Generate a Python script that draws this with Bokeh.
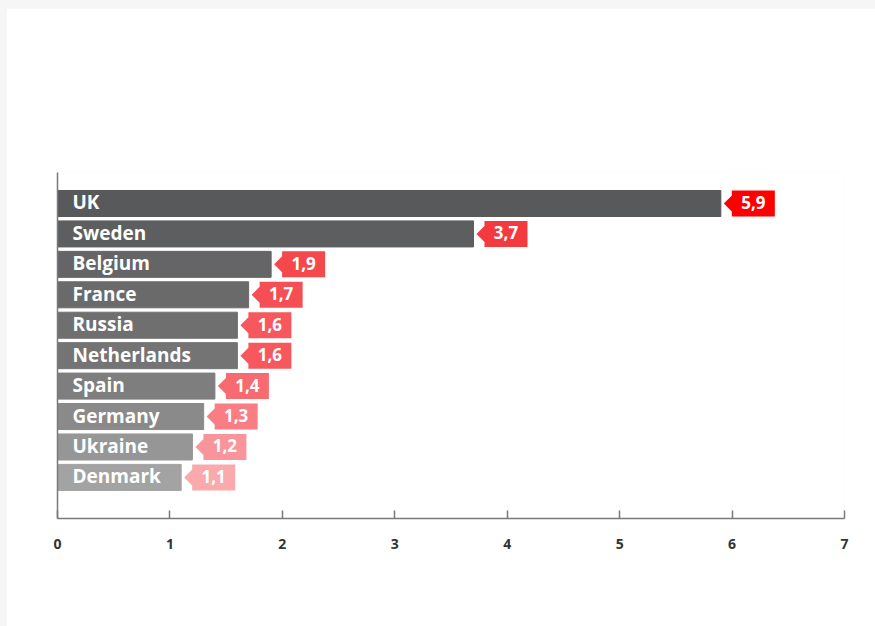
from bokeh.plotting import figure
from bokeh.models import ColumnDataSource, Range1d, FixedTicker, Column
from bokeh.core.properties import value
from bokeh.embed import file_html
from bokeh.resources import INLINE

countries = ["UK", "Sweden", "Belgium", "France", "Russia", "Netherlands",
             "Spain", "Germany", "Ukraine", "Denmark"]
values = [5.9, 3.7, 1.9, 1.7, 1.6, 1.6, 1.4, 1.3, 1.2, 1.1]
labels = ["5,9", "3,7", "1,9", "1,7", "1,6", "1,6", "1,4", "1,3", "1,2", "1,1"]
bar_colors = ["#58595b", "#5d5e60", "#656567", "#6a6a6b", "#6f6f70", "#747475",
              "#7e7e7f", "#8a8a8b", "#969697", "#a3a3a4"]
tag_colors = ["#ff0000", "#f23a3f", "#f4484d", "#f54f55", "#f6585d", "#f6585d",
              "#f76a6f", "#f87e83", "#f9959a", "#faa9ad"]
x_ticks = [0, 1, 2, 3, 4, 5, 6, 7]

W, H = 869, 618
FL, FR, FT, FB = 51, 838, 164, 510
px_per_unit = (FR - FL) / 7.0

ys = [-i for i in range(len(countries))]
bar_h = 0.855

p = figure(width=W, height=H, output_backend="svg", toolbar_location=None,
           x_range=Range1d(0, 7), y_range=Range1d(-10.35, 1.018),
           min_border_left=FL, min_border_right=W - FR,
           min_border_top=FT, min_border_bottom=H - FB)
p.border_fill_color = "white"
p.background_fill_color = "white"
p.outline_line_color = None
p.xgrid.grid_line_color = None
p.ygrid.grid_line_color = None

src = ColumnDataSource(dict(y=ys, v=values, name=countries, col=bar_colors))
p.hbar(y="y", left=0, right="v", height=bar_h, color="col", source=src)

# value tags
d3 = 3 / px_per_unit
d11 = 11 / px_per_unit
tw = 43 / px_per_unit
xs, yss, tx = [], [], []
ah = 8 / 30.44
for v, y in zip(values, ys):
    x0 = v + d3
    x1 = v + d11
    x2 = x1 + tw
    xs.append([x0, x1, x1, x2, x2, x1, x1])
    yss.append([y, y + ah, y + bar_h / 2, y + bar_h / 2, y - bar_h / 2, y - bar_h / 2, y - ah])
    tx.append(x1 + tw / 2)
tsrc = ColumnDataSource(dict(xs=xs, ys=yss, col=tag_colors, tx=tx, y=ys, lab=labels))
p.patches("xs", "ys", fill_color="col", line_color=None, source=tsrc)
p.text(x="tx", y="y", text="lab", source=tsrc, text_color="white",
       text_font=value("Open Sans"), text_font_style="bold", text_font_size="17px",
       text_align="center", text_baseline="middle", y_offset=-1)

p.text(x=0, y="y", text="name", source=src, x_offset=15, y_offset=-1, text_color="white",
       text_font=value("Open Sans"), text_font_style="bold", text_font_size="19px",
       text_align="left", text_baseline="middle")

xa = p.xaxis[0]
xa.ticker = FixedTicker(ticks=x_ticks)
xa.axis_line_color = "#7a7a7a"
xa.axis_line_width = 1.5
xa.major_tick_line_color = "#7a7a7a"
xa.major_tick_line_width = 1.5
xa.major_tick_in = 8
xa.major_tick_out = 0
xa.minor_tick_line_color = None
xa.major_label_standoff = 20
xa.major_label_text_font = "Open Sans"
xa.major_label_text_font_style = "bold"
xa.major_label_text_font_size = "14px"
xa.major_label_text_color = "#333333"

ya = p.yaxis[0]
ya.axis_line_color = "#7a7a7a"
ya.axis_line_width = 1.5
ya.major_tick_line_color = None
ya.minor_tick_line_color = None
ya.major_label_text_font_size = "0px"
ya.major_label_text_color = None

layout = Column(p, styles={"background-color": "#f6f6f6", "padding": "8px 0px 0px 6px"})

open("out.html", "w").write(file_html(layout, INLINE))
